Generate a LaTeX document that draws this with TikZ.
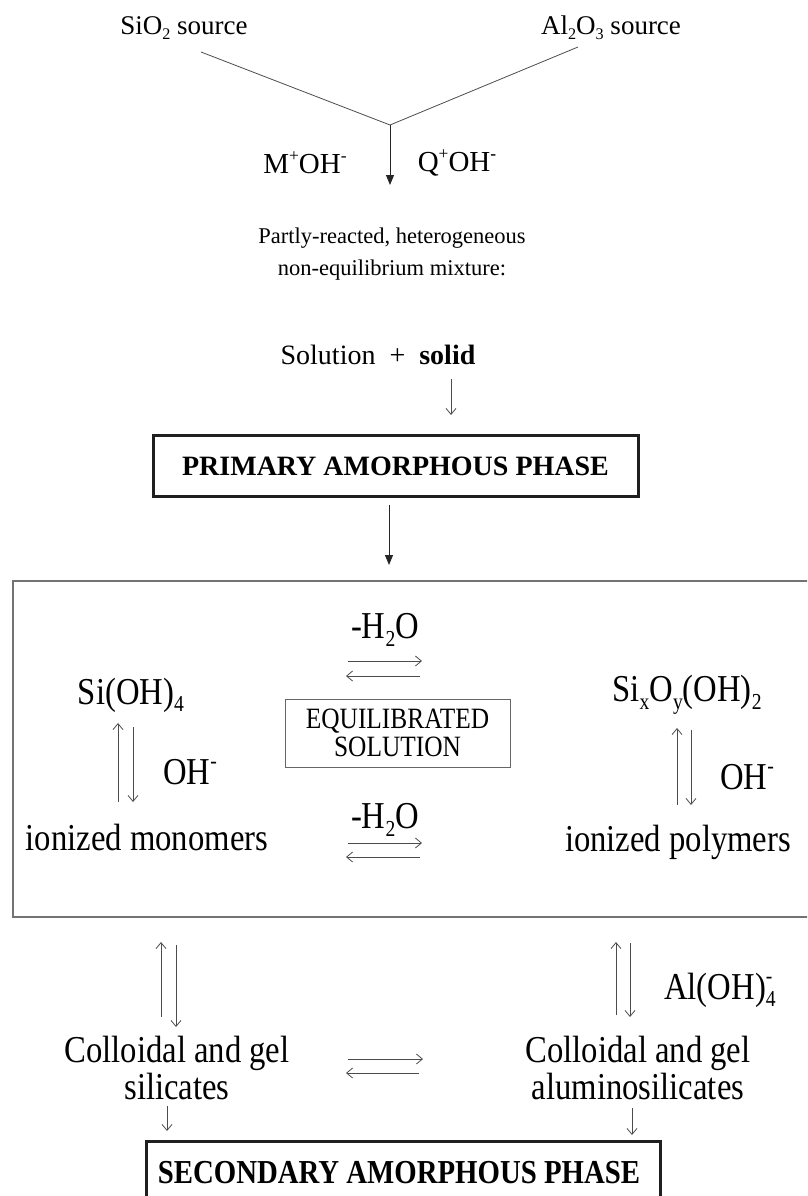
\documentclass[tikz,border=0pt]{standalone}
\usepackage{fontspec}
\setmainfont{Liberation Serif}
\newfontfamily\cond[FakeStretch=0.86]{Liberation Serif}
\usetikzlibrary{arrows.meta}
\newcommand{\dn}[1]{\raisebox{-0.2em}{\scalebox{0.6}{#1}}}
\newcommand{\up}[1]{\raisebox{0.42em}{\scalebox{0.6}{#1}}}
\newcommand{\subsup}[2]{\makebox[0pt][l]{\up{#2}}\dn{#1}}
\begin{document}
\begin{tikzpicture}[x=1pt,y=-1pt,
  lbl/.style={inner sep=0pt, align=center, font=\fontsize{27}{32}\selectfont},
  big/.style={inner sep=0pt, align=center, font=\cond\fontsize{38}{37}\selectfont},
  thinline/.style={draw=black!70, line width=0.8pt},
  barb/.style={thinline, -{Straight Barb[length=6pt,width=10pt]}},
  mainarrow/.style={draw=black!85, line width=1pt, -{Triangle[length=10pt,width=8pt]}},
  thickbox/.style={draw=black!88, line width=3pt}
]
\useasboundingbox (0,0) rectangle (807,1196);
\clip (0,0) rectangle (807,1196);

% top
\node[lbl] (sio) at (184,28) {SiO\dn{2} source};
\node[lbl] (alo) at (611,28) {Al\dn{2}O\dn{3} source};
\coordinate (ls) at (201,52);
\coordinate (rs) at (578,47);
\coordinate (v) at (390,125);
\coordinate (vt) at (390,185);
\draw[thinline] (ls) -- (v) -- (rs);
\draw[mainarrow] (v) -- (vt);
\node[lbl, font=\fontsize{29}{30}\selectfont] (moh) at (305,163) {M\up{+}OH\up{-}};
\node[lbl, font=\fontsize{29}{30}\selectfont] (qoh) at (457,163) {Q\up{+}OH\up{\textbf{-}}};

\node[lbl, font=\fontsize{22.5}{32}\selectfont] (partly) at (392,254) {Partly-reacted, heterogeneous\\non-equilibrium mixture:};
\node[lbl, font=\fontsize{28}{32}\selectfont] (sol) at (378,355) {Solution\ \ +\ \ \textbf{solid}};
\coordinate (s1) at (451,379);
\coordinate (s2) at (451,415);
\draw[barb] (s1) -- (s2);

\node[thickbox, minimum width=485pt, minimum height=61pt, inner sep=0pt,
  font=\fontsize{28}{30}\selectfont\bfseries] (prim) at (395.5,466) {PRIMARY AMORPHOUS PHASE};
\coordinate (p1) at (389,505);
\coordinate (p2) at (389,565);
\draw[mainarrow] (p1) -- (p2);

% big box
\draw[draw=black!55, line width=1.2pt] (13,581) rectangle (820,917);

\node[draw=black!60, line width=1pt, minimum width=225pt, minimum height=68pt, inner sep=0pt, align=center,
  font=\cond\fontsize{29.5}{28}\selectfont] (eq) at (397.5,733) {EQUILIBRATED\\SOLUTION};

\node[big] (h2oa) at (385,630) {-H\dn{2}O};
\coordinate (ea1) at (348,661); \coordinate (ea2) at (422,661);
\coordinate (eb1) at (420,676); \coordinate (eb2) at (346,676);
\draw[barb] (ea1) -- (ea2);
\draw[barb] (eb1) -- (eb2);

\node[big] (sioh) at (131,695) {Si(OH)\dn{4}};
\coordinate (la1) at (118,802); \coordinate (la2) at (118,723);
\coordinate (lb1) at (133,727); \coordinate (lb2) at (133,802);
\draw[barb] (la1) -- (la2);
\draw[barb] (lb1) -- (lb2);
\node[big] (ohl) at (190,772) {OH\up{-}};
\node[big] (mono) at (147,837) {ionized monomers};

\node[big] (h2ob) at (385,820) {-H\dn{2}O};
\coordinate (fa1) at (348,843); \coordinate (fa2) at (422,843);
\coordinate (fb1) at (420,857); \coordinate (fb2) at (346,857);
\draw[barb] (fa1) -- (fa2);
\draw[barb] (fb1) -- (fb2);

\node[big] (sixoy) at (687,695) {Si\dn{x}O\dn{y}(OH)\dn{2}};
\coordinate (ra1) at (677,805); \coordinate (ra2) at (677,728);
\coordinate (rb1) at (691,730); \coordinate (rb2) at (691,805);
\draw[barb] (ra1) -- (ra2);
\draw[barb] (rb1) -- (rb2);
\node[big] (ohr) at (747,777) {OH\up{-}};
\node[big] (poly) at (678,842) {ionized polymers};

% lower
\coordinate (ma1) at (161,1017); \coordinate (ma2) at (161,942);
\coordinate (mb1) at (176,945); \coordinate (mb2) at (176,1027);
\draw[barb] (ma1) -- (ma2);
\draw[barb] (mb1) -- (mb2);
\coordinate (na1) at (616,1015); \coordinate (na2) at (616,942);
\coordinate (nb1) at (630,943); \coordinate (nb2) at (630,1017);
\draw[barb] (na1) -- (na2);
\draw[barb] (nb1) -- (nb2);
\node[big] (aloh) at (720,990) {Al(OH)\subsup{4}{-}};

\node[big] (colsil) at (177,1068) {Colloidal and gel\\silicates};
\node[big] (colal) at (638,1068) {Colloidal and gel\\aluminosilicates};
\coordinate (ga1) at (348,1059); \coordinate (ga2) at (423,1059);
\coordinate (gb1) at (419,1073); \coordinate (gb2) at (346,1073);
\draw[barb] (ga1) -- (ga2);
\draw[barb] (gb1) -- (gb2);

\coordinate (ka1) at (167,1106); \coordinate (ka2) at (167,1131);
\coordinate (kb1) at (632,1108); \coordinate (kb2) at (632,1135);
\draw[barb] (ka1) -- (ka2);
\draw[barb] (kb1) -- (kb2);

\node[thickbox, minimum width=514pt, minimum height=80pt, inner sep=0pt, anchor=north west] (sec) at (145,1140) {};
\node[inner sep=0pt, font=\cond\fontsize{33.5}{34}\selectfont\bfseries] (sectext) at (399,1173) {SECONDARY AMORPHOUS PHASE};
\end{tikzpicture}
\end{document}
